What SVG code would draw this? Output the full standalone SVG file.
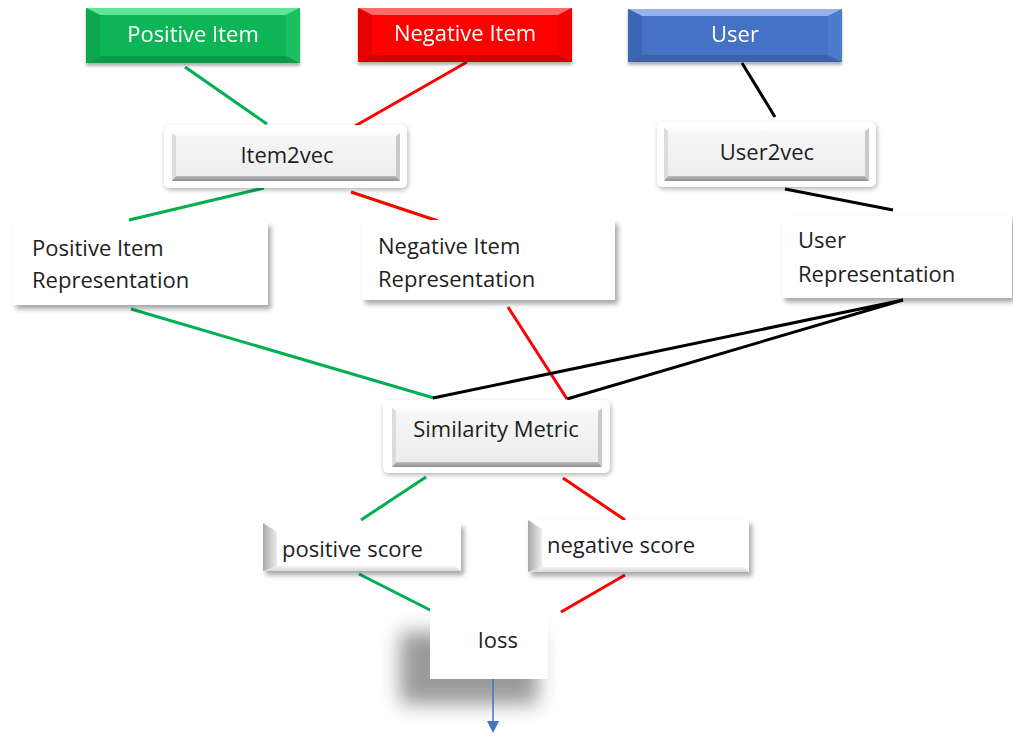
<svg xmlns="http://www.w3.org/2000/svg" width="1013" height="740" viewBox="0 0 1013 740">
  <defs>
    <style>
      text { font-family: "Open Sans", "Liberation Sans", sans-serif; font-size: 22px; fill: #1e1e1e; }
      .lbl-w { fill: #ffffff; text-anchor: middle; }
      .mid { text-anchor: middle; }
      .edge { fill: none; stroke-width: 3; stroke-linecap: butt; }
      .g { stroke: #00B050; }
      .r { stroke: #FF0000; }
      .k { stroke: #000000; }
      .frame { fill: #ffffff; filter: url(#soft); }
      .plain { fill: #ffffff; filter: url(#drop); }
      .btn-face { fill: url(#btnFace); }
      .btn-top { fill: #fbfbfb; }
      .btn-bot { fill: url(#btnBot); }
      .btn-l { fill: #dcdcdc; }
      .btn-r { fill: #c9c9c9; }
    </style>
    <filter id="drop" x="-10%" y="-20%" width="125%" height="150%">
      <feDropShadow dx="3" dy="4" stdDeviation="2.5" flood-color="#000" flood-opacity="0.35"/>
    </filter>
    <filter id="soft" x="-10%" y="-20%" width="125%" height="150%">
      <feDropShadow dx="1" dy="2" stdDeviation="2.5" flood-color="#000" flood-opacity="0.3"/>
    </filter>
    <filter id="tile" x="-5%" y="-20%" width="110%" height="150%">
      <feDropShadow dx="0" dy="3" stdDeviation="1.5" flood-color="#000" flood-opacity="0.3"/>
    </filter>
    <filter id="haze" x="-50%" y="-50%" width="200%" height="200%">
      <feGaussianBlur stdDeviation="10"/>
    </filter>
    <linearGradient id="btnFace" x1="0" y1="0" x2="0" y2="1">
      <stop offset="0" stop-color="#f7f7f7"/>
      <stop offset="1" stop-color="#ececec"/>
    </linearGradient>
    <linearGradient id="btnBot" x1="0" y1="0" x2="0" y2="1">
      <stop offset="0" stop-color="#bdbdbd"/>
      <stop offset="1" stop-color="#8c8c8c"/>
    </linearGradient>
    <linearGradient id="scoreL" x1="0" y1="0" x2="1" y2="0">
      <stop offset="0" stop-color="#a8a8a8"/>
      <stop offset="1" stop-color="#ececec"/>
    </linearGradient>
    <linearGradient id="scoreB" x1="0" y1="0" x2="0" y2="1">
      <stop offset="0" stop-color="#f4f4f4"/>
      <stop offset="1" stop-color="#d6d6d6"/>
    </linearGradient>
    <marker id="arrow" viewBox="0 0 12 12" refX="2" refY="6" markerWidth="12" markerHeight="12" markerUnits="userSpaceOnUse" orient="auto">
      <path d="M0,0 L12,6 L0,12 Z" fill="#4472C4"/>
    </marker>
  </defs>

  <rect width="1013" height="740" fill="#ffffff"/>

  <!-- connectors -->
  <g id="connectors">
    <line class="edge g" x1="185" y1="67" x2="267" y2="124"/>
    <line class="edge r" x1="467" y1="62" x2="355" y2="126"/>
    <line class="edge k" x1="742" y1="63" x2="775" y2="117"/>
    <line class="edge g" x1="264" y1="188" x2="129" y2="220"/>
    <line class="edge r" x1="351" y1="192" x2="438" y2="221"/>
    <line class="edge k" x1="785" y1="189" x2="893" y2="210"/>
    <line class="edge g" x1="131" y1="309" x2="434" y2="398"/>
    <line class="edge r" x1="508" y1="307" x2="567" y2="399"/>
    <polyline class="edge k" points="433,398 903,300 567,399" stroke-linejoin="miter"/>
    <line class="edge g" x1="426" y1="477" x2="361" y2="520"/>
    <line class="edge r" x1="563" y1="478" x2="625" y2="520"/>
    <line class="edge g" x1="359" y1="574" x2="432" y2="611"/>
    <line class="edge r" x1="625" y1="575" x2="561" y2="612"/>
  </g>

  <!-- source tiles -->
  <g id="positive-item" filter="url(#tile)">
    <rect x="86" y="8" width="214" height="55" fill="#10b556"/>
    <polygon points="86,8 300,8 286,15 100,15" fill="#5fe59a"/>
    <polygon points="86,63 300,63 286,56 100,56" fill="#0a9a46"/>
    <polygon points="86,8 100,15 100,56 86,63" fill="#09a84c"/>
    <polygon points="300,8 286,15 286,56 300,63" fill="#1bc062"/>
    <text class="lbl-w" x="193" y="42">Positive Item</text>
  </g>

  <g id="negative-item" filter="url(#tile)">
    <rect x="358" y="8" width="214" height="54" fill="#ff0000"/>
    <polygon points="358,8 572,8 558,15 372,15" fill="#ff6a6a"/>
    <polygon points="358,62 572,62 558,55 372,55" fill="#d40000"/>
    <polygon points="358,8 372,15 372,55 358,62" fill="#e60000"/>
    <polygon points="572,8 558,15 558,55 572,62" fill="#f20000"/>
    <text class="lbl-w" x="465" y="41">Negative Item</text>
  </g>

  <g id="user" filter="url(#tile)">
    <rect x="628" y="9" width="214" height="53" fill="#4472C4"/>
    <polygon points="628,9 842,9 828,16 642,16" fill="#93b3ea"/>
    <polygon points="628,62 842,62 828,55 642,55" fill="#3a62ab"/>
    <polygon points="628,9 642,16 642,55 628,62" fill="#3c66b5"/>
    <polygon points="842,9 828,16 828,55 842,62" fill="#4d7bcc"/>
    <text class="lbl-w" x="735" y="42">User</text>
  </g>

  <!-- encoders -->
  <g id="item2vec">
    <rect class="frame" x="164" y="125" width="243" height="63" rx="6"/>
    <rect class="btn-face" x="172" y="133" width="228" height="48"/>
    <polygon class="btn-top" points="172,133 400,133 396,136 176,136"/>
    <polygon class="btn-bot" points="172,181 400,181 396,176 176,176"/>
    <polygon class="btn-l" points="172,133 176,136 176,176 172,181"/>
    <polygon class="btn-r" points="400,133 396,136 396,176 400,181"/>
    <text class="mid" x="287" y="163">Item2vec</text>
  </g>

  <g id="user2vec">
    <rect class="frame" x="657" y="122" width="219" height="65" rx="6"/>
    <rect class="btn-face" x="664" y="128" width="205" height="53"/>
    <polygon class="btn-top" points="664,128 869,128 865,131 668,131"/>
    <polygon class="btn-bot" points="664,181 869,181 865,176 668,176"/>
    <polygon class="btn-l" points="664,128 668,131 668,176 664,181"/>
    <polygon class="btn-r" points="869,128 865,131 865,176 869,181"/>
    <text class="mid" x="767" y="160">User2vec</text>
  </g>

  <!-- representations -->
  <g id="positive-representation">
    <rect class="plain" x="13" y="222" width="255" height="83"/>
    <text x="32" y="256">Positive Item</text>
    <text x="32" y="288">Representation</text>
  </g>

  <g id="negative-representation">
    <rect class="plain" x="362" y="220" width="253" height="80"/>
    <text x="378" y="254">Negative Item</text>
    <text x="378" y="287">Representation</text>
  </g>

  <g id="user-representation">
    <rect class="plain" x="782" y="216" width="230" height="82"/>
    <text x="798" y="248">User</text>
    <text x="798" y="282">Representation</text>
  </g>

  <!-- scoring -->
  <g id="similarity-metric">
    <rect class="frame" x="383" y="400" width="227" height="73" rx="6"/>
    <rect class="btn-face" x="392" y="408" width="210" height="59"/>
    <polygon class="btn-top" points="392,408 602,408 598,411 396,411"/>
    <polygon class="btn-bot" points="392,467 602,467 598,462 396,462"/>
    <polygon class="btn-l" points="392,408 396,411 396,462 392,467"/>
    <polygon class="btn-r" points="602,408 598,411 598,462 602,467"/>
    <text class="mid" x="496" y="437">Similarity Metric</text>
  </g>

  <g id="positive-score">
    <rect class="plain" x="263" y="523" width="198" height="48"/>
    <polygon points="263,571 461,571 455,566 277,566" fill="url(#scoreB)"/>
    <polygon points="263,523 277,532 277,566 263,571" fill="url(#scoreL)"/>
    <text x="282" y="557">positive score</text>
  </g>

  <g id="negative-score">
    <rect class="plain" x="528" y="520" width="221" height="52"/>
    <polygon points="528,572 749,572 743,567 542,567" fill="url(#scoreB)"/>
    <polygon points="528,520 542,529 542,567 528,572" fill="url(#scoreL)"/>
    <text x="547" y="553">negative score</text>
  </g>

  <g id="loss">
    <!-- soft offset shadow behind the loss card -->
    <rect x="400" y="632" width="138" height="72" fill="#9a9a9a" filter="url(#haze)"/>
    <rect x="430" y="606" width="118" height="73" fill="#ffffff"/>
    <text class="mid" x="498" y="648">loss</text>
  </g>

  <g id="output-arrow">
    <line x1="493" y1="679" x2="493" y2="723" stroke="#4472C4" stroke-width="1.5" marker-end="url(#arrow)"/>
  </g>
</svg>
